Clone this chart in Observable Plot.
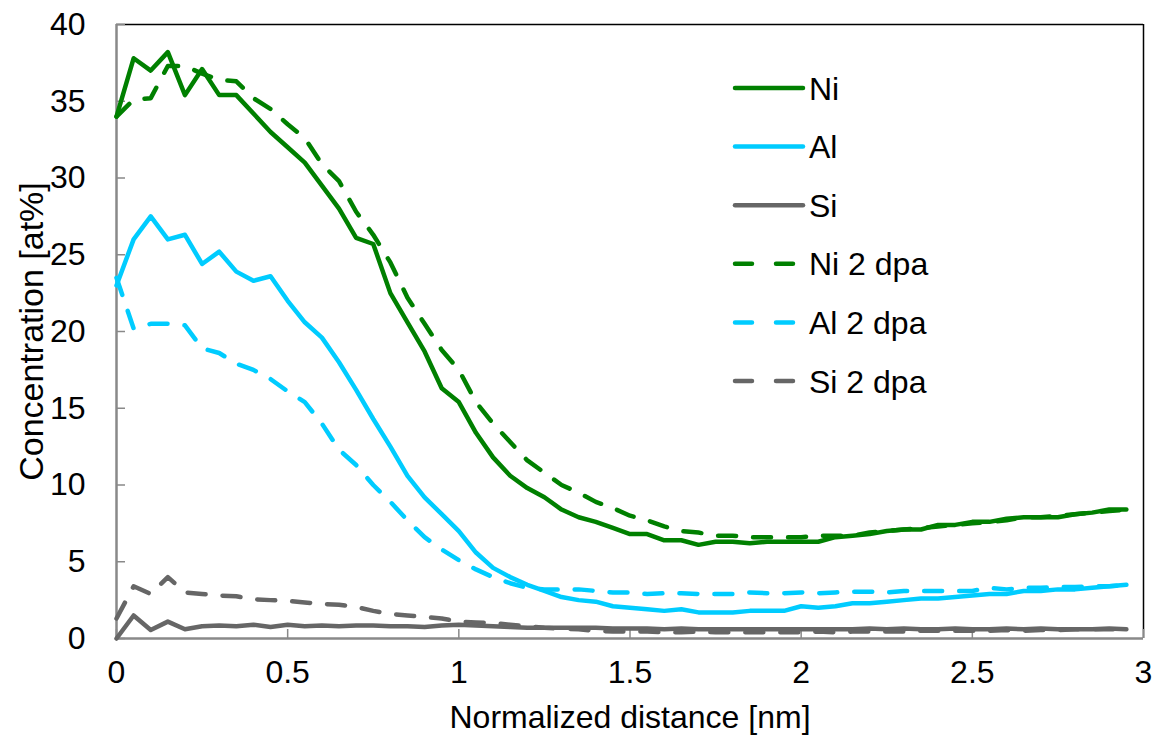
<!DOCTYPE html>
<html><head><meta charset="utf-8">
<script src="https://cdn.jsdelivr.net/npm/d3@7"></script>
<script src="https://cdn.jsdelivr.net/npm/@observablehq/plot@0.6"></script>
<style>
html,body{margin:0;padding:0;background:#fff;}
#wrap{position:relative;width:1163px;height:738px;font-family:"Liberation Sans",Arial,sans-serif;}
#wrap svg{display:block;}
#legend{position:absolute;left:0;top:0;pointer-events:none;}
</style></head><body><div id="wrap"></div>
<script>
// ---- data ----
const distance = [0,0.05,0.1,0.15,0.2,0.25,0.3,0.35,0.4,0.45,0.5,0.55,0.6,0.65,0.7,0.75,0.8,0.85,0.9,0.95,1,1.05,1.1,1.15,1.2,1.25,1.3,1.35,1.4,1.45,1.5,1.55,1.6,1.65,1.7,1.75,1.8,1.85,1.9,1.95,2,2.05,2.1,2.15,2.2,2.25,2.3,2.35,2.4,2.45,2.5,2.55,2.6,2.65,2.7,2.75,2.8,2.85,2.9,2.95];
const ni  = [34.0,37.8,37.0,38.2,35.4,37.1,35.4,35.4,34.2,33.0, 32.0,31.0,29.5,28.0,26.1,25.7,22.5,20.6,18.7,16.3, 15.4,13.4,11.8,10.6,9.8,9.2,8.4,7.9,7.6,7.2, 6.8,6.8,6.4,6.4,6.1,6.3,6.3,6.2,6.3,6.3, 6.3,6.3,6.6,6.7,6.8,7.0,7.1,7.1,7.4,7.4, 7.6,7.6,7.8,7.9,7.9,7.9,8.1,8.2,8.4,8.4];
const al  = [23.0,26.0,27.5,26.0,26.3,24.4,25.2,23.9,23.3,23.6, 22.0,20.6,19.6,18.0,16.2,14.3,12.5,10.6,9.2,8.1, 7.0,5.6,4.6,4.0,3.5,3.1,2.7,2.5,2.4,2.1, 2.0,1.9,1.8,1.9,1.7,1.7,1.7,1.8,1.8,1.8, 2.1,2.0,2.1,2.3,2.3,2.4,2.5,2.6,2.6,2.7, 2.8,2.9,2.9,3.1,3.1,3.2,3.2,3.3,3.4,3.5];
const si  = [0.0,1.5,0.55,1.1,0.6,0.8,0.85,0.8,0.9,0.75, 0.9,0.8,0.85,0.8,0.85,0.85,0.8,0.8,0.75,0.85, 0.9,0.85,0.8,0.75,0.7,0.7,0.7,0.7,0.7,0.65, 0.65,0.65,0.6,0.65,0.6,0.6,0.6,0.6,0.6,0.6, 0.6,0.6,0.6,0.6,0.65,0.6,0.65,0.6,0.6,0.65, 0.6,0.6,0.65,0.6,0.65,0.6,0.6,0.6,0.65,0.6];
const ni2 = [34.0,35.1,35.2,37.3,37.3,36.8,36.4,36.3,35.2,34.5, 33.5,32.6,30.9,29.8,27.8,26.3,24.5,22.2,20.5,18.8, 17.5,15.4,14.0,12.8,11.6,10.8,10.0,9.5,8.9,8.5, 8.0,7.7,7.3,7.0,6.9,6.7,6.7,6.6,6.6,6.6, 6.6,6.7,6.7,6.7,6.9,7.0,7.1,7.2,7.3,7.4, 7.5,7.6,7.7,7.9,7.9,8.0,8.1,8.2,8.3,8.4];
const al2 = [23.5,20.2,20.5,20.5,20.4,18.9,18.6,17.9,17.5,16.9, 16.1,15.4,14.0,12.3,11.3,10.0,8.9,7.7,6.6,5.8, 5.1,4.5,4.0,3.6,3.3,3.2,3.2,3.2,3.1,3.0, 3.0,2.9,2.95,2.95,2.9,2.9,2.9,3.0,2.95,2.95, 3.0,2.95,3.0,3.05,3.05,3.0,3.1,3.1,3.1,3.1, 3.1,3.3,3.2,3.3,3.3,3.35,3.35,3.4,3.4,3.5];
const si2 = [1.3,3.4,2.9,4.0,3.0,2.9,2.8,2.75,2.55,2.5, 2.45,2.35,2.25,2.2,2.05,1.8,1.6,1.5,1.4,1.3, 1.1,1.05,1.0,0.9,0.8,0.7,0.65,0.6,0.5,0.45, 0.45,0.45,0.4,0.4,0.45,0.4,0.4,0.4,0.4,0.4, 0.4,0.45,0.4,0.45,0.45,0.45,0.45,0.5,0.5,0.5, 0.5,0.5,0.55,0.5,0.55,0.55,0.6,0.6,0.6,0.6];

const seriesNames  = ["Ni","Al","Si","Ni 2 dpa","Al 2 dpa","Si 2 dpa"];
const seriesValues = [ni, al, si, ni2, al2, si2];
const seriesColors = ["#008000","#00CCFF","#666666","#008000","#00CCFF","#666666"];
const seriesDashed = [false,false,false,true,true,true];

const xTicks = [0,0.5,1,1.5,2,2.5,3];
const yTicks = [0,5,10,15,20,25,30,35,40];
const xLabel = "Normalized distance [nm]";
const yLabel = "Concentration [at%]";

// ---- layout ----
const W = 1163, H = 738, ML = 116, MR = 20, MT = 24, MB = 100;
const innerW = W - ML - MR, innerH = H - MT - MB;
const FONT = "'Liberation Sans', Arial, sans-serif";
const FS = 32;
const DASH = "18,17";
const LEG_DASH = "17,24";

const rows = seriesNames.flatMap((name, s) =>
  distance.map((d, i) => ({series: name, x: d, y: seriesValues[s][i]})));

const lineMarks = seriesNames.map((name, s) =>
  Plot.line(rows.filter(r => r.series === name), {
    x: "x", y: "y",
    stroke: seriesColors[s], strokeWidth: 4.5,
    strokeDasharray: seriesDashed[s] ? DASH : null,
    strokeLinecap: "round", strokeLinejoin: "round"
  }));

const chart = Plot.plot({
  width: W, height: H,
  marginLeft: ML, marginRight: MR, marginTop: MT, marginBottom: MB,
  style: {fontFamily: FONT, fontSize: FS + "px", color: "#000", background: "#fff", overflow: "visible"},
  x: {domain: [0, 3]},
  y: {domain: [0, 40]},
  marks: [
    Plot.ruleY([40], {stroke: "#000", strokeWidth: 1.5}),
    Plot.ruleX([3], {stroke: "#000", strokeWidth: 1.5}),
    Plot.ruleX(xTicks, {x: d => d, insetTop: innerH - 9, stroke: "#898989", strokeWidth: 1.5}),
    Plot.ruleY(yTicks, {y: d => d, insetRight: innerW - 9, stroke: "#898989", strokeWidth: 1.5}),
    Plot.ruleX([0], {stroke: "#898989", strokeWidth: 2.5}),
    Plot.ruleY([0], {stroke: "#898989", strokeWidth: 2.5}),
    Plot.axisX({ticks: xTicks, tickSize: 0, tickPadding: 22, label: null, fontSize: FS, tickFormat: d => String(d)}),
    Plot.axisY({ticks: yTicks, tickSize: 0, tickPadding: 31, label: null, fontSize: FS, tickFormat: d => String(d)}),
    ...lineMarks,
    Plot.text([xLabel], {text: d => d, frameAnchor: "bottom", dy: 89, lineAnchor: "bottom", textAnchor: "middle", fontSize: FS, fill: "#000"}),
    Plot.text([yLabel], {text: d => d, frameAnchor: "left", dx: -84, rotate: -90, textAnchor: "middle", lineAnchor: "middle", fontSize: 34, fill: "#000"})
  ]
});
document.getElementById("wrap").appendChild(chart);

// ---- legend (overlay inside the plot area) ----
const leg = d3.select("#wrap").append("svg").attr("id", "legend")
  .attr("width", W).attr("height", H);
seriesNames.forEach((name, i) => {
  const y = 88 + i * 58.6;
  leg.append("line")
    .attr("x1", 735).attr("x2", seriesDashed[i] ? 797 : 803)
    .attr("y1", y).attr("y2", y)
    .attr("stroke", seriesColors[i]).attr("stroke-width", 4.5)
    .attr("stroke-linecap", "round")
    .attr("stroke-dasharray", seriesDashed[i] ? LEG_DASH : null);
  leg.append("text")
    .attr("x", 809).attr("y", y).attr("dy", "0.36em")
    .attr("font-family", FONT).attr("font-size", FS).attr("fill", "#000")
    .text(name);
});
</script>
</body></html>
